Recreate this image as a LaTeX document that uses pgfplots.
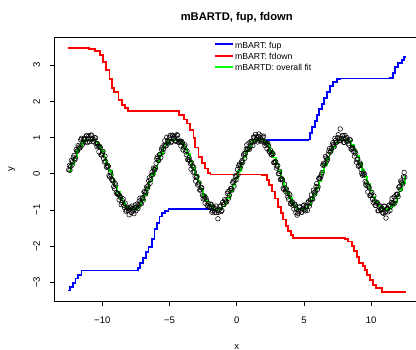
\documentclass[border=0pt]{standalone}
\usepackage{fontspec}
\setmainfont{Liberation Sans}
\usepackage{pgfplots}
\pgfplotsset{compat=1.18}
\definecolor{rblue}{RGB}{0,0,255}
\definecolor{rred}{RGB}{255,0,0}
\definecolor{rgreen}{RGB}{0,255,0}
\begin{document}
\begin{tikzpicture}
\begin{axis}[
  scale only axis, width=364.9bp, height=264.4bp,
  xmin=-13.57, xmax=13.57, ymin=-3.53, ymax=3.77,
  axis line style={line width=0.75bp},
  tick align=outside, tick pos=left, major tick length=4.3bp,
  tick style={line width=0.75bp, black},
  xtick={-10,-5,0,5,10}, xticklabels={−10,−5,0,5,10},
  ytick={-3,-2,-1,0,1,2,3}, yticklabels={−3,−2,−1,0,1,2,3},
  ticklabel style={font=\fontsize{9.5bp}{11bp}\selectfont},
  xticklabel style={anchor=base, yshift=-17.5bp},
  yticklabel style={xshift=-10bp, rotate=90, anchor=base},
  xlabel={x}, ylabel={y},
  label style={font=\fontsize{9.5bp}{11bp}\selectfont},
  xlabel style={at={(axis description cs:0.5,-0.1797)}, anchor=base},
  ylabel style={at={(axis description cs:-0.112,0.5)}, anchor=base},
  title={mBARTD, fup, fdown},
  title style={at={(axis description cs:0.5,1)}, anchor=base, yshift=11bp, font=\bfseries\fontsize{11.2bp}{13bp}\selectfont},
  legend style={at={(axis description cs:0.439,0.9837)}, anchor=north west, draw=none, fill=none,
    font=\fontsize{8.7bp}{10bp}\selectfont, inner sep=0pt, outer sep=0pt, row sep=0pt, column sep=1.6bp,
    nodes={inner sep=0pt, text height=6.5bp, text depth=4.9bp}},
  legend cell align=left,
  legend image code/.code={\draw[#1, line width=1.8bp] (0bp,3bp) -- (17.2bp,3bp);},
]
% observed data (open circles)
\addplot[only marks, mark=o, mark size=2.3bp, mark options={line width=0.55bp, black}, forget plot] coordinates {
(-12.5,0.11)(-12.4,0.10)(-12.3,0.37)(-12.2,0.34)(-12.1,0.51)(-12.0,0.43)(-11.9,0.63)(-11.8,0.78)(-11.7,0.71)(-11.6,0.94)(-11.5,0.79)(-11.4,0.95)(-11.3,0.95)(-11.2,1.05)(-11.1,0.86)(-11.0,1.05)(-10.9,0.96)(-10.8,1.07)(-10.7,0.90)(-10.6,0.94)(-10.5,0.99)(-10.4,0.75)(-10.3,0.77)(-10.2,0.76)(-10.1,0.52)(-10.0,0.57)(-9.9,0.42)(-9.8,0.49)(-9.7,0.20)(-9.6,0.22)(-9.5,-0.05)(-9.4,0.05)(-9.3,-0.15)(-9.2,-0.19)(-9.1,-0.41)(-9.0,-0.31)(-8.9,-0.55)(-8.8,-0.58)(-8.7,-0.60)(-8.6,-0.85)(-8.5,-0.74)(-8.4,-0.87)(-8.3,-0.81)(-8.2,-1.00)(-8.1,-0.95)(-8.0,-1.13)(-7.9,-0.95)(-7.8,-0.89)(-7.7,-1.03)(-7.6,-0.94)(-7.5,-1.02)(-7.4,-0.83)(-7.3,-0.88)(-7.2,-0.67)(-7.1,-0.83)(-7.0,-0.66)(-6.9,-0.50)(-6.8,-0.56)(-6.7,-0.36)(-6.6,-0.33)(-6.5,-0.11)(-6.4,-0.16)(-6.3,0.05)
(-6.2,0.16)(-6.1,0.11)(-6.0,0.29)(-5.9,0.47)(-5.8,0.37)(-5.7,0.54)(-5.6,0.68)(-5.5,0.60)(-5.4,0.79)(-5.3,0.79)(-5.2,1.01)(-5.1,0.85)(-5.0,1.01)(-4.9,0.86)(-4.8,1.07)(-4.7,0.98)(-4.6,1.04)(-4.5,0.89)(-4.4,1.06)(-4.3,0.87)(-4.2,0.89)(-4.1,0.90)(-4.0,0.66)(-3.9,0.76)(-3.8,0.61)(-3.7,0.63)(-3.6,0.39)(-3.5,0.38)(-3.4,0.13)(-3.3,0.22)(-3.2,0.18)(-3.1,-0.07)(-3.0,-0.10)(-2.9,-0.31)(-2.8,-0.25)(-2.7,-0.44)(-2.6,-0.38)(-2.5,-0.69)(-2.4,-0.67)(-2.3,-0.66)(-2.2,-0.87)(-2.1,-0.82)(-2.0,-0.92)(-1.9,-0.84)(-1.8,-1.02)(-1.7,-0.93)(-1.6,-0.96)(-1.5,-1.07)(-1.4,-1.24)(-1.3,-0.99)(-1.2,-0.88)(-1.1,-1.01)(-1.0,-0.84)(-0.9,-0.71)(-0.8,-0.78)(-0.7,-0.54)(-0.6,-0.67)(-0.5,-0.46)(-0.4,-0.41)(-0.3,-0.24)(-0.2,-0.34)(-0.1,-0.06)(0.0,-0.05)
(0.1,-0.02)(0.2,0.27)(0.3,0.22)(0.4,0.37)(0.5,0.52)(0.6,0.43)(0.7,0.68)(0.8,0.69)(0.9,0.85)(1.0,0.76)(1.1,0.90)(1.2,0.78)(1.3,1.01)(1.4,1.09)(1.5,0.95)(1.6,1.03)(1.7,0.92)(1.8,1.05)(1.9,0.93)(2.0,1.04)(2.1,0.78)(2.2,0.83)(2.3,0.85)(2.4,0.63)(2.5,0.66)(2.6,0.52)(2.7,0.55)(2.8,0.31)(2.9,0.33)(3.0,0.21)(3.1,0.00)(3.2,0.07)(3.3,-0.15)(3.4,-0.17)(3.5,-0.43)(3.6,-0.40)(3.7,-0.42)(3.8,-0.64)(3.9,-0.55)(4.0,-0.83)(4.1,-0.77)(4.2,-0.87)(4.3,-0.83)(4.4,-1.07)(4.5,-1.14)(4.6,-1.03)(4.7,-0.91)(4.8,-1.06)(4.9,-0.97)(5.0,-0.86)(5.1,-1.02)(5.2,-0.90)(5.3,-0.79)(5.4,-0.89)(5.5,-0.70)(5.6,-0.69)(5.7,-0.45)(5.8,-0.56)(5.9,-0.35)(6.0,-0.43)(6.1,-0.13)(6.2,-0.13)
(6.3,-0.01)(6.4,0.24)(6.5,0.24)(6.6,0.48)(6.7,0.35)(6.8,0.54)(6.9,0.70)(7.0,0.63)(7.1,0.80)(7.2,0.80)(7.3,0.98)(7.4,0.87)(7.5,1.00)(7.6,0.91)(7.7,1.24)(7.8,0.98)(7.9,1.06)(8.0,0.87)(8.1,0.97)(8.2,1.00)(8.3,0.83)(8.4,0.95)(8.5,0.68)(8.6,0.73)(8.7,0.61)(8.8,0.61)(8.9,0.32)(9.0,0.41)(9.1,0.23)(9.2,0.26)(9.3,0.01)(9.4,-0.01)(9.5,-0.02)(9.6,-0.31)(9.7,-0.32)(9.8,-0.35)(9.9,-0.60)(10.0,-0.56)(10.1,-0.70)(10.2,-0.61)(10.3,-0.87)(10.4,-0.81)(10.5,-1.02)(10.6,-0.86)(10.7,-0.99)(10.8,-0.95)(10.9,-1.09)(11.0,-0.90)(11.1,-1.22)(11.2,-0.96)(11.3,-0.87)(11.4,-1.01)(11.5,-0.79)(11.6,-0.80)(11.7,-0.64)(11.8,-0.72)(11.9,-0.56)(12.0,-0.63)(12.1,-0.35)(12.2,-0.20)(12.3,-0.25)(12.4,-0.08)(12.5,-0.09)
(-12.45,0.23)(-12.35,0.21)(-12.25,0.24)(-12.15,0.46)(-12.05,0.38)(-11.95,0.67)(-11.85,0.63)(-11.75,0.74)(-11.65,0.72)(-11.55,0.98)(-11.45,0.85)(-11.35,0.98)(-11.25,0.88)(-11.15,1.05)(-11.05,0.98)(-10.95,0.89)(-10.85,1.07)(-10.75,0.97)(-10.65,0.88)(-10.55,1.00)(-10.45,0.83)(-10.35,0.83)(-10.25,0.61)(-10.15,0.73)(-10.05,0.53)(-9.95,0.62)(-9.85,0.33)(-9.75,0.34)(-9.65,0.18)(-9.55,0.21)(-9.45,-0.08)(-9.35,-0.03)(-9.25,-0.19)(-9.15,-0.35)(-9.05,-0.26)(-8.95,-0.52)(-8.85,-0.54)(-8.75,-0.72)(-8.65,-0.65)(-8.55,-0.79)(-8.45,-0.69)(-8.35,-0.93)(-8.25,-1.03)(-8.15,-0.92)(-8.05,-1.01)(-7.95,-0.92)(-7.85,-1.07)(-7.75,-0.97)(-7.65,-1.10)(-7.55,-0.86)(-7.45,-0.92)(-7.35,-0.96)(-7.25,-0.75)(-7.15,-0.80)(-7.05,-0.68)(-6.95,-0.72)(-6.85,-0.49)(-6.75,-0.51)(-6.65,-0.40)(-6.55,-0.19)(-6.45,-0.26)(-6.35,-0.04)(-6.25,-0.02)
(-6.15,0.12)(-6.05,0.16)(-5.95,0.42)(-5.85,0.38)(-5.75,0.53)(-5.65,0.45)(-5.55,0.73)(-5.45,0.68)(-5.35,0.91)(-5.25,0.77)(-5.15,0.92)(-5.05,0.90)(-4.95,1.06)(-4.85,0.89)(-4.75,1.05)(-4.65,0.99)(-4.55,0.92)(-4.45,1.08)(-4.35,0.88)(-4.25,0.91)(-4.15,0.77)(-4.05,0.86)(-3.95,0.72)(-3.85,0.80)(-3.75,0.53)(-3.65,0.39)(-3.55,0.45)(-3.45,0.29)(-3.35,0.30)(-3.25,0.05)(-3.15,0.05)(-3.05,-0.20)(-2.95,-0.08)(-2.85,-0.28)(-2.75,-0.45)(-2.65,-0.39)(-2.55,-0.59)(-2.45,-0.61)(-2.35,-0.81)(-2.25,-0.72)(-2.15,-0.89)(-2.05,-0.92)(-1.95,-0.85)(-1.85,-1.06)(-1.75,-0.96)(-1.65,-1.06)(-1.55,-0.89)(-1.45,-1.01)(-1.35,-1.06)(-1.25,-0.91)(-1.15,-1.04)(-1.05,-0.79)(-0.95,-0.85)(-0.85,-0.75)(-0.75,-0.77)(-0.65,-0.49)(-0.55,-0.59)(-0.45,-0.41)(-0.35,-0.45)(-0.25,-0.20)(-0.15,-0.18)(-0.05,-0.17)(0.05,0.12)
(0.15,0.23)(0.25,0.16)(0.35,0.33)(0.45,0.32)(0.55,0.56)(0.65,0.56)(0.75,0.80)(0.85,0.68)(0.95,0.68)(1.05,0.89)(1.15,0.87)(1.25,1.02)(1.35,0.90)(1.45,1.02)(1.55,0.88)(1.65,1.10)(1.75,0.99)(1.85,0.89)(1.95,1.01)(2.05,0.86)(2.15,0.88)(2.25,0.70)(2.35,0.79)(2.45,0.60)(2.55,0.54)(2.65,0.57)(2.75,0.31)(2.85,0.34)(2.95,0.16)(3.05,0.23)(3.15,0.01)(3.25,-0.16)(3.35,-0.13)(3.45,-0.40)(3.55,-0.28)(3.65,-0.49)(3.75,-0.54)(3.85,-0.70)(3.95,-0.58)(4.05,-0.82)(4.15,-0.79)(4.25,-0.97)(4.35,-0.86)(4.45,-0.98)(4.55,-1.09)(4.65,-0.92)(4.75,-1.00)(4.85,-1.06)(4.95,-0.88)(5.05,-0.99)(5.15,-0.89)(5.25,-1.01)(5.35,-0.75)(5.45,-0.81)(5.55,-0.58)(5.65,-0.70)(5.75,-0.52)(5.85,-0.49)(5.95,-0.27)(6.05,-0.36)(6.15,-0.11)(6.25,-0.07)
(6.35,0.04)(6.45,0.29)(6.55,0.28)(6.65,0.43)(6.75,0.40)(6.85,0.63)(6.95,0.60)(7.05,0.69)(7.15,0.86)(7.25,0.75)(7.35,0.92)(7.45,0.88)(7.55,1.08)(7.65,0.98)(7.75,0.92)(7.85,1.05)(7.95,0.87)(8.05,1.06)(8.15,0.91)(8.25,0.91)(8.35,0.79)(8.45,0.93)(8.55,0.69)(8.65,0.70)(8.75,0.49)(8.85,0.56)(8.95,0.39)(9.05,0.21)(9.15,0.30)(9.25,0.12)(9.35,-0.04)(9.45,0.02)(9.55,-0.21)(9.65,-0.25)(9.75,-0.50)(9.85,-0.39)(9.95,-0.60)(10.05,-0.51)(10.15,-0.79)(10.25,-0.75)(10.35,-0.87)(10.45,-0.79)(10.55,-1.02)(10.65,-0.91)(10.75,-0.99)(10.85,-1.07)(10.95,-0.89)(11.05,-1.06)(11.15,-0.97)(11.25,-1.05)(11.35,-0.86)(11.45,-0.90)(11.55,-0.68)(11.65,-0.81)(11.75,-0.81)(11.85,-0.58)(11.95,-0.57)(12.05,-0.37)(12.15,-0.43)(12.25,-0.23)(12.35,-0.28)(12.45,0.04)
};
% mBART: fup
\addplot[const plot, rblue, line width=1.8bp] coordinates {
(-12.57,-3.22)(-12.4,-3.12)(-12.2,-3.01)(-12.0,-2.89)(-11.8,-2.80)(-11.55,-2.67)(-7.36,-2.60)(-7.19,-2.47)(-6.99,-2.32)(-6.74,-2.15)(-6.57,-2.01)(-6.32,-1.80)(-6.12,-1.53)(-5.95,-1.35)(-5.75,-1.18)(-5.58,-1.07)(-5.33,-1.02)(-5.08,-0.96)(-1.3,-0.97)(-1.1,-0.90)(-0.9,-0.79)(-0.7,-0.66)(-0.5,-0.49)(-0.3,-0.31)(-0.1,-0.11)(0.1,0.07)(0.3,0.27)(0.5,0.45)(0.7,0.62)(0.9,0.76)(1.1,0.88)(1.3,0.93)(1.5,0.94)(5.32,0.95)(5.45,1.12)(5.62,1.30)(5.82,1.47)(5.99,1.62)(6.14,1.78)(6.32,1.93)(6.49,2.09)(6.69,2.27)(6.94,2.43)(7.18,2.54)(7.43,2.61)(7.68,2.63)(11.4,2.65)(11.6,2.79)(11.77,2.94)(12.02,3.05)(12.27,3.14)(12.44,3.22)(12.57,3.22)
};
\addlegendentry{mBART: fup}
% mBART: fdown
\addplot[const plot, rred, line width=1.8bp] coordinates {
(-12.57,3.48)(-11.0,3.45)(-10.55,3.40)(-10.16,3.28)(-9.96,3.08)(-9.72,2.87)(-9.47,2.62)(-9.29,2.36)(-9.1,2.27)(-8.8,2.04)(-8.55,1.90)(-8.3,1.81)(-8.06,1.74)(-4.3,1.62)(-3.9,1.50)(-3.72,1.39)(-3.47,1.21)(-3.22,0.98)(-3.1,0.73)(-2.85,0.47)(-2.6,0.29)(-2.36,0.15)(-2.11,0.03)(-1.95,-0.02)(1.86,-0.03)(2.23,-0.17)(2.42,-0.31)(2.6,-0.49)(2.85,-0.68)(3.09,-0.91)(3.27,-1.07)(3.46,-1.26)(3.67,-1.44)(3.84,-1.57)(4.01,-1.69)(4.21,-1.78)(8.05,-1.80)(8.3,-1.87)(8.55,-1.99)(8.72,-2.12)(8.92,-2.29)(9.12,-2.46)(9.37,-2.55)(9.54,-2.66)(9.71,-2.80)(9.91,-2.93)(10.11,-3.07)(10.36,-3.16)(10.78,-3.26)(12.57,-3.26)
};
\addlegendentry{mBART: fdown}
% mBARTD: overall fit
\addplot[const plot, rgreen, line width=1.8bp] coordinates {
(-12.5,0.07)(-12.3,0.27)(-12.1,0.45)(-11.9,0.62)(-11.7,0.76)(-11.5,0.88)(-11.3,0.93)(-11.1,0.93)(-10.9,0.93)(-10.7,0.93)(-10.5,0.88)(-10.3,0.77)(-10.1,0.62)(-9.9,0.45)(-9.7,0.27)(-9.5,0.07)(-9.3,-0.13)(-9.1,-0.32)(-8.9,-0.50)(-8.7,-0.67)(-8.5,-0.80)(-8.3,-0.90)(-8.1,-0.97)(-7.9,-0.97)(-7.7,-0.97)(-7.5,-0.94)(-7.3,-0.85)(-7.1,-0.73)(-6.9,-0.58)(-6.7,-0.40)(-6.5,-0.21)(-6.3,-0.01)
(-6.1,0.17)(-5.9,0.36)(-5.7,0.54)(-5.5,0.70)(-5.3,0.82)(-5.1,0.92)(-4.9,0.93)(-4.7,0.93)(-4.5,0.93)(-4.3,0.92)(-4.1,0.83)(-3.9,0.70)(-3.7,0.54)(-3.5,0.36)(-3.3,0.17)(-3.1,-0.03)(-2.9,-0.23)(-2.7,-0.41)(-2.5,-0.59)(-2.3,-0.74)(-2.1,-0.86)(-1.9,-0.94)(-1.7,-0.97)(-1.5,-0.97)(-1.3,-0.97)(-1.1,-0.90)(-0.9,-0.79)(-0.7,-0.66)(-0.5,-0.49)(-0.3,-0.31)(-0.1,-0.11)
(0.1,0.07)(0.3,0.27)(0.5,0.45)(0.7,0.62)(0.9,0.76)(1.1,0.88)(1.3,0.93)(1.5,0.93)(1.7,0.93)(1.9,0.93)(2.1,0.88)(2.3,0.77)(2.5,0.62)(2.7,0.45)(2.9,0.27)(3.1,0.07)(3.3,-0.13)(3.5,-0.32)(3.7,-0.50)(3.9,-0.67)(4.1,-0.80)(4.3,-0.90)(4.5,-0.97)(4.7,-0.97)(4.9,-0.97)(5.1,-0.94)(5.3,-0.85)(5.5,-0.73)(5.7,-0.58)(5.9,-0.40)(6.1,-0.21)
(6.3,0.04)(6.5,0.24)(6.7,0.42)(6.9,0.59)(7.1,0.74)(7.3,0.86)(7.5,0.93)(7.7,0.93)(7.9,0.93)(8.1,0.93)(8.3,0.90)(8.5,0.80)(8.7,0.65)(8.9,0.49)(9.1,0.31)(9.3,0.11)(9.5,-0.09)(9.7,-0.28)(9.9,-0.46)(10.1,-0.63)(10.3,-0.77)(10.5,-0.88)(10.7,-0.95)(10.9,-0.97)(11.1,-0.97)(11.3,-0.96)(11.5,-0.88)(11.7,-0.77)(11.9,-0.62)(12.1,-0.44)(12.3,-0.25)(12.5,-0.05)
};
\addlegendentry{mBARTD: overall fit}
\end{axis}
\pgfresetboundingbox
\path[use as bounding box] (-54.3bp,-48.3bp) rectangle (361.7bp,301.7bp);
\end{tikzpicture}
\end{document}
